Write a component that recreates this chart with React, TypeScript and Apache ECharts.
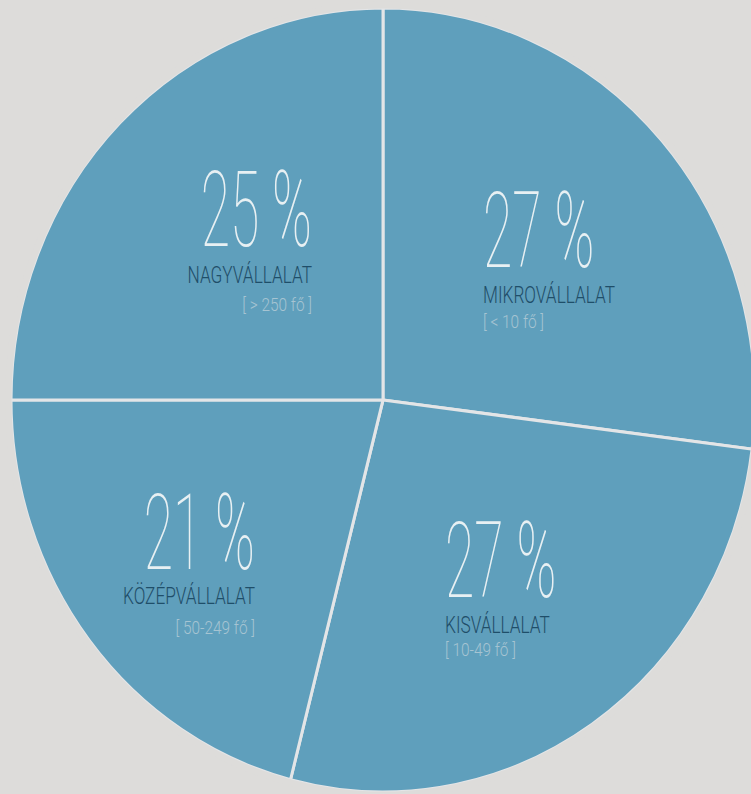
import React, { useEffect, useRef } from "react";
import * as echarts from "echarts";

// ---- data ----
const categories = ["MIKROVÁLLALAT", "KISVÁLLALAT", "KÖZÉPVÁLLALAT", "NAGYVÁLLALAT"];
const shares = [27, 27, 21, 25];
const sizeRanges = ["[ < 10 fő ]", "[ 10-49 fő ]", "[ 50-249 fő ]", "[ > 250 fő ]"];

// ---- layout ----
const W = 751;
const H = 794;
const K = 1.054; // vertical stretch of the picture
const BG = "#dddcda";
const PIE = "#5f9fbc";
const R = 372;

// label anchors in page pixels (same order as categories)
const anchors = [
  { x: 483, align: "left", pct: 231, name: 295, sub: 321 },
  { x: 445, align: "left", pct: 561, name: 624.5, sub: 649 },
  { x: 255, align: "right", pct: 533, name: 595.5, sub: 627.5 },
  { x: 312, align: "right", pct: 210, name: 274.5, sub: 304.5 },
];

function buildLabels() {
  const els: any[] = [];
  anchors.forEach((a, i) => {
    els.push({
      type: "text",
      x: a.x,
      y: a.pct / K,
      z: 100,
      scaleX: 0.53,
      silent: true,
      style: {
        text: `${shares[i]} %`,
        fill: "#e8f0f3",
        fontFamily: "Roboto",
        fontWeight: 100,
        fontSize: 101,
        textAlign: a.align,
        textVerticalAlign: "middle",
      },
    });
    els.push({
      type: "text",
      x: a.x,
      y: a.name / K,
      z: 100,
      scaleX: 0.76,
      silent: true,
      style: {
        text: categories[i],
        fill: "#1f4e69",
        fontFamily: "Roboto",
        fontWeight: 300,
        fontSize: 22.7,
        textAlign: a.align,
        textVerticalAlign: "middle",
      },
    });
    els.push({
      type: "text",
      x: a.x,
      y: a.sub / K,
      z: 100,
      scaleX: 0.88,
      silent: true,
      style: {
        text: sizeRanges[i],
        fill: "#a6c4d2",
        fontFamily: "Roboto",
        fontWeight: 300,
        fontSize: 17.5,
        textAlign: a.align,
        textVerticalAlign: "middle",
      },
    });
  });
  return els;
}

export default function App() {
  const ref = useRef<HTMLDivElement>(null);
  useEffect(() => {
    if (!ref.current) return;
    const chart = echarts.init(ref.current, undefined, { renderer: "svg" });
    chart.setOption({
      animation: false,
      backgroundColor: "transparent",
      series: [
        {
          type: "pie",
          center: [383, 400 / K],
          radius: R,
          startAngle: 90,
          clockwise: true,
          silent: true,
          z: 2,
          label: { show: false },
          labelLine: { show: false },
          emphasis: { disabled: true },
          itemStyle: { color: PIE, borderColor: "#e3e5e7", borderWidth: 3 },
          data: categories.map((c, i) => ({ name: c, value: shares[i] })),
        },
        {
          // ring in background colour hiding the light outer outline
          type: "pie",
          center: [383, 400 / K],
          radius: [R - 0.5, R + 6],
          silent: true,
          z: 3,
          label: { show: false },
          labelLine: { show: false },
          emphasis: { disabled: true },
          itemStyle: { color: BG, borderWidth: 0 },
          data: [{ name: "", value: 1 }],
        },
      ],
      graphic: buildLabels(),
    });
    return () => chart.dispose();
  }, []);

  return (
    <div
      style={{
        position: "fixed",
        left: 0,
        top: 0,
        width: W,
        height: H,
        overflow: "hidden",
        background: BG,
      }}
    >
      <div
        ref={ref}
        style={{
          width: W,
          height: H / K,
          transform: `scaleY(${K})`,
          transformOrigin: "0 0",
        }}
      />
    </div>
  );
}
